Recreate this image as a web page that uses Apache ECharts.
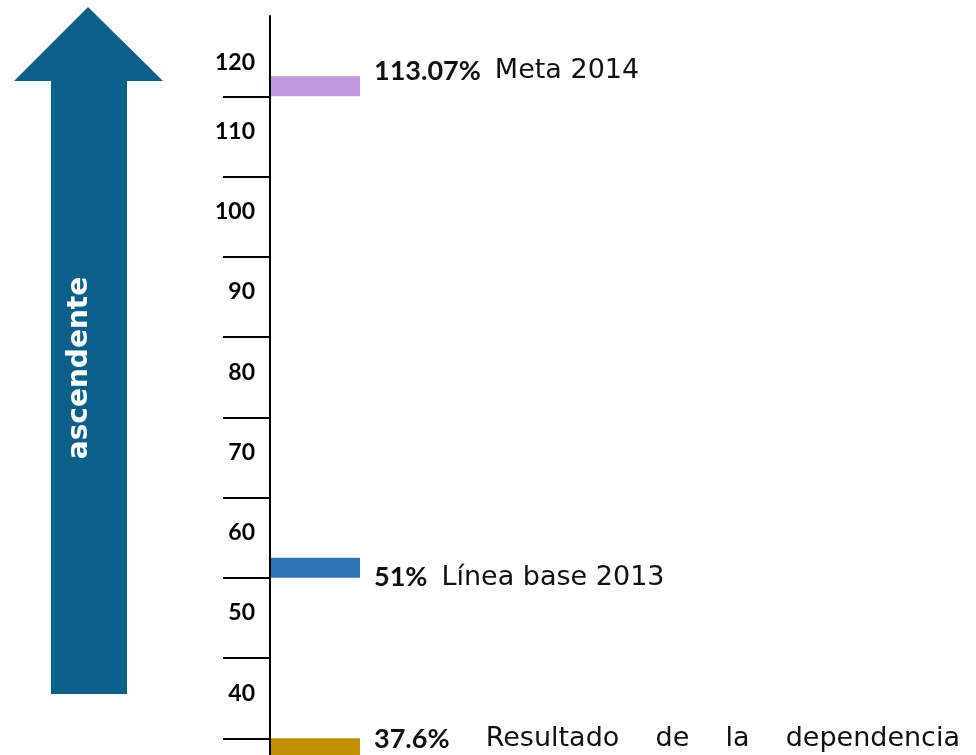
<!DOCTYPE html>
<html>
<head>
<meta charset="utf-8">
<script src="https://cdn.jsdelivr.net/npm/echarts@6/dist/echarts.min.js"></script>
<style>
html, body { margin: 0; padding: 0; background: #fff; }
#chart { width: 976px; height: 755px; }
</style>
</head>
<body>
<div id="chart"></div>
<script>
// scale labels (bottom to top) and the tick marks between them
var scaleLabels = ['30', '40', '50', '60', '70', '80', '90', '100', '110', '120'];
var tickValues = [40, 50, 60, 70, 80, 90, 100, 110, 120];

var markerPos = [121.25, 61.25, 38.75];
var markerPct = ['113.07%', '51%', '37.6%'];
var markerText = ['Meta 2014', 'Línea base 2013', 'Resultado de la dependencia'];

var arrowText = 'ascendente';

// styles
var markerColors = ['#c197dd', '#2e73b5', '#bf8f00'];
var labelShift = [-15, 10, -9];
var justify = [false, false, true];
var BAR_W = 89;
var BAR_HALF = 1.25;
var TEXT_GAP = 104;
var TEXT_END = 960;
var WORD_GAP = 14;
var pctFont = 'bold 27px Lato';
var wordFont = '27px "DejaVu Sans"';

var measureCtx = document.createElement('canvas').getContext('2d');
function textWidth(str, font) {
    measureCtx.font = font;
    return measureCtx.measureText(str).width;
}

var chart = echarts.init(document.getElementById('chart'));

var option = {
    backgroundColor: '#fff',
    animation: false,
    grid: { left: 270, right: 16, top: 16, height: 802.5, outerBoundsMode: 'none', containLabel: false },
    xAxis: { type: 'value', min: 0, max: 1, show: false },
    yAxis: [{
        type: 'category',
        position: 'left',
        data: scaleLabels,
        axisLine: { show: true, lineStyle: { color: '#000', width: 2 } },
        axisTick: { show: false },
        axisLabel: {
            margin: 15,
            color: '#000',
            fontFamily: 'Lato',
            fontWeight: 'bold',
            fontSize: 23,
            formatter: function (v, i) {
                return i === scaleLabels.length - 1 ? '{top|' + v + '}' : '{n|' + v + '}';
            },
            rich: {
                n: { fontFamily: 'Lato', fontWeight: 'bold', fontSize: 23, color: '#000', padding: [0, 0, 10, 0] },
                top: { fontFamily: 'Lato', fontWeight: 'bold', fontSize: 23, color: '#000', padding: [12, 0, 0, 0] }
            }
        },
        splitLine: { show: false }
    }, {
        type: 'value',
        position: 'left',
        offset: 0,
        min: 30,
        max: 130,
        axisLine: { show: false },
        axisLabel: { show: false },
        splitLine: { show: false },
        axisTick: {
            show: true,
            length: 47,
            customValues: tickValues,
            lineStyle: { color: '#000', width: 2 }
        }
    }],
    graphic: [{
        type: 'polygon',
        shape: { points: [[88, 7], [163, 81], [127, 81], [127, 694], [51, 694], [51, 81], [14, 81]] },
        style: { fill: '#0b6089' }
    }, {
        type: 'text',
        x: 80,
        y: 368,
        rotation: Math.PI / 2,
        style: {
            text: arrowText,
            fill: '#fff',
            font: 'bold 28px "DejaVu Sans"',
            textAlign: 'center',
            textVerticalAlign: 'middle'
        }
    }],
    series: [{
        type: 'custom',
        yAxisIndex: 1,
        clip: false,
        data: markerPos.map(function (p) { return [0, p]; }),
        renderItem: function (params, api) {
            var i = params.dataIndex;
            var v = api.value(1);
            var top = api.coord([0, v + BAR_HALF]);
            var bot = api.coord([0, v - BAR_HALF]);
            var x0 = params.coordSys.x;
            var ty = (top[1] + bot[1]) / 2 + labelShift[i];
            var tx = x0 + TEXT_GAP;
            var children = [{
                type: 'rect',
                shape: { x: x0 + 1, y: top[1], width: BAR_W, height: bot[1] - top[1] },
                style: { fill: markerColors[i] }
            }];
            var pieces = [{ str: markerPct[i], font: pctFont }].concat(
                markerText[i].split(' ').map(function (w) { return { str: w, font: wordFont }; })
            );
            var widths = pieces.map(function (p) { return textWidth(p.str, p.font); });
            var gaps = pieces.map(function (p, k) { return k === 0 ? WORD_GAP : textWidth(' ', wordFont); });
            if (justify[i]) {
                var sum = widths.reduce(function (a, b) { return a + b; }, 0);
                var g = (TEXT_END - tx - sum) / (pieces.length - 1);
                gaps = gaps.map(function () { return g; });
            }
            var x = tx;
            pieces.forEach(function (p, k) {
                children.push({
                    type: 'text',
                    x: x,
                    y: ty,
                    style: {
                        text: p.str,
                        font: p.font,
                        fill: '#111',
                        textAlign: 'left',
                        textVerticalAlign: 'middle'
                    }
                });
                x += widths[k] + gaps[k];
            });
            return { type: 'group', children: children };
        }
    }]
};

chart.setOption(option);
</script>
</body>
</html>
